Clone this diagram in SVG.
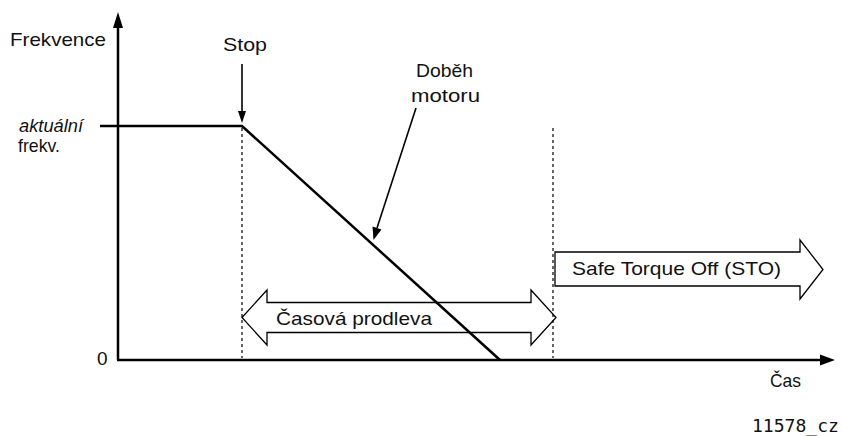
<svg xmlns="http://www.w3.org/2000/svg" width="842" height="436" viewBox="0 0 842 436">
  <style>
    text { font-family: "Liberation Sans", Arial, sans-serif; font-size: 19px; fill: #111; }
    .axis { stroke: #000; stroke-width: 2.5; fill: none; }
    .curve { stroke: #000; stroke-width: 2.5; fill: none; }
    .dash { stroke: #000; stroke-width: 1.2; stroke-dasharray: 3 3; fill: none; }
    .pointer { stroke: #000; stroke-width: 1.6; fill: none; }
    .head { fill: #000; stroke: none; }
    .band { fill: #fff; stroke: #000; stroke-width: 1.3; }
    .mono { font-family: "DejaVu Sans Mono", "Liberation Mono", monospace; font-size: 17px; }
  </style>

  <!-- axes with arrowheads -->
  <g id="axes">
    <line class="axis" x1="118" y1="360" x2="118" y2="26"/>
    <polygon class="head" points="113,28 123,28 118,12"/>
    <line class="axis" x1="117" y1="360" x2="822" y2="360"/>
    <polygon class="head" points="820,354.5 820,365.5 835,360"/>
    <text x="10" y="46" textLength="96" lengthAdjust="spacingAndGlyphs">Frekvence</text>
    <text x="97" y="365">0</text>
    <text x="770" y="387" textLength="31" lengthAdjust="spacingAndGlyphs">Čas</text>
  </g>

  <!-- frequency level label -->
  <g id="level-label">
    <text x="19" y="132" font-size="17" font-style="italic" textLength="64" lengthAdjust="spacingAndGlyphs">aktuální</text>
    <text x="18" y="152" font-size="16" textLength="42" lengthAdjust="spacingAndGlyphs">frekv.</text>
  </g>

  <!-- time delay band (drawn beneath the ramp) -->
  <g id="delay-band">
    <polygon class="band" points="242,317.5 267,290 267,302.5 531,302.5 531,290 556,317.5 531,345 531,332.5 267,332.5 267,345"/>
    <text x="276" y="325" textLength="156" lengthAdjust="spacingAndGlyphs">Časová prodleva</text>
  </g>

  <!-- STO band -->
  <g id="sto-band">
    <polygon class="band" points="555,252 800,252 800,240 823,269.5 800,299 800,286 555,286"/>
    <text x="572" y="275" textLength="209" lengthAdjust="spacingAndGlyphs">Safe Torque Off (STO)</text>
  </g>

  <!-- frequency ramp -->
  <g id="ramp">
    <polyline class="curve" points="100,126 242,126 500,360"/>
  </g>

  <!-- callouts -->
  <g id="stop-label">
    <text x="223" y="51" textLength="44" lengthAdjust="spacingAndGlyphs">Stop</text>
  </g>
  <g id="coast-label">
    <text x="416" y="77" textLength="57" lengthAdjust="spacingAndGlyphs">Doběh</text>
    <text x="411" y="102" textLength="69" lengthAdjust="spacingAndGlyphs">motoru</text>
  </g>

  <g id="connectors">
    <line class="dash" x1="242" y1="128" x2="242" y2="358"/>
    <line class="dash" x1="553" y1="128" x2="553" y2="358"/>
    <line class="pointer" x1="242" y1="64" x2="242" y2="112"/>
    <polygon class="head" points="238,111 246,111 242,123"/>
    <line class="pointer" x1="416" y1="108" x2="377" y2="228"/>
    <polygon class="head" points="372.5,226.5 381.5,229.5 373.5,240"/>
  </g>

  <g id="figure-code">
    <text class="mono" x="752" y="432" textLength="87" lengthAdjust="spacingAndGlyphs">11578_cz</text>
  </g>
</svg>
